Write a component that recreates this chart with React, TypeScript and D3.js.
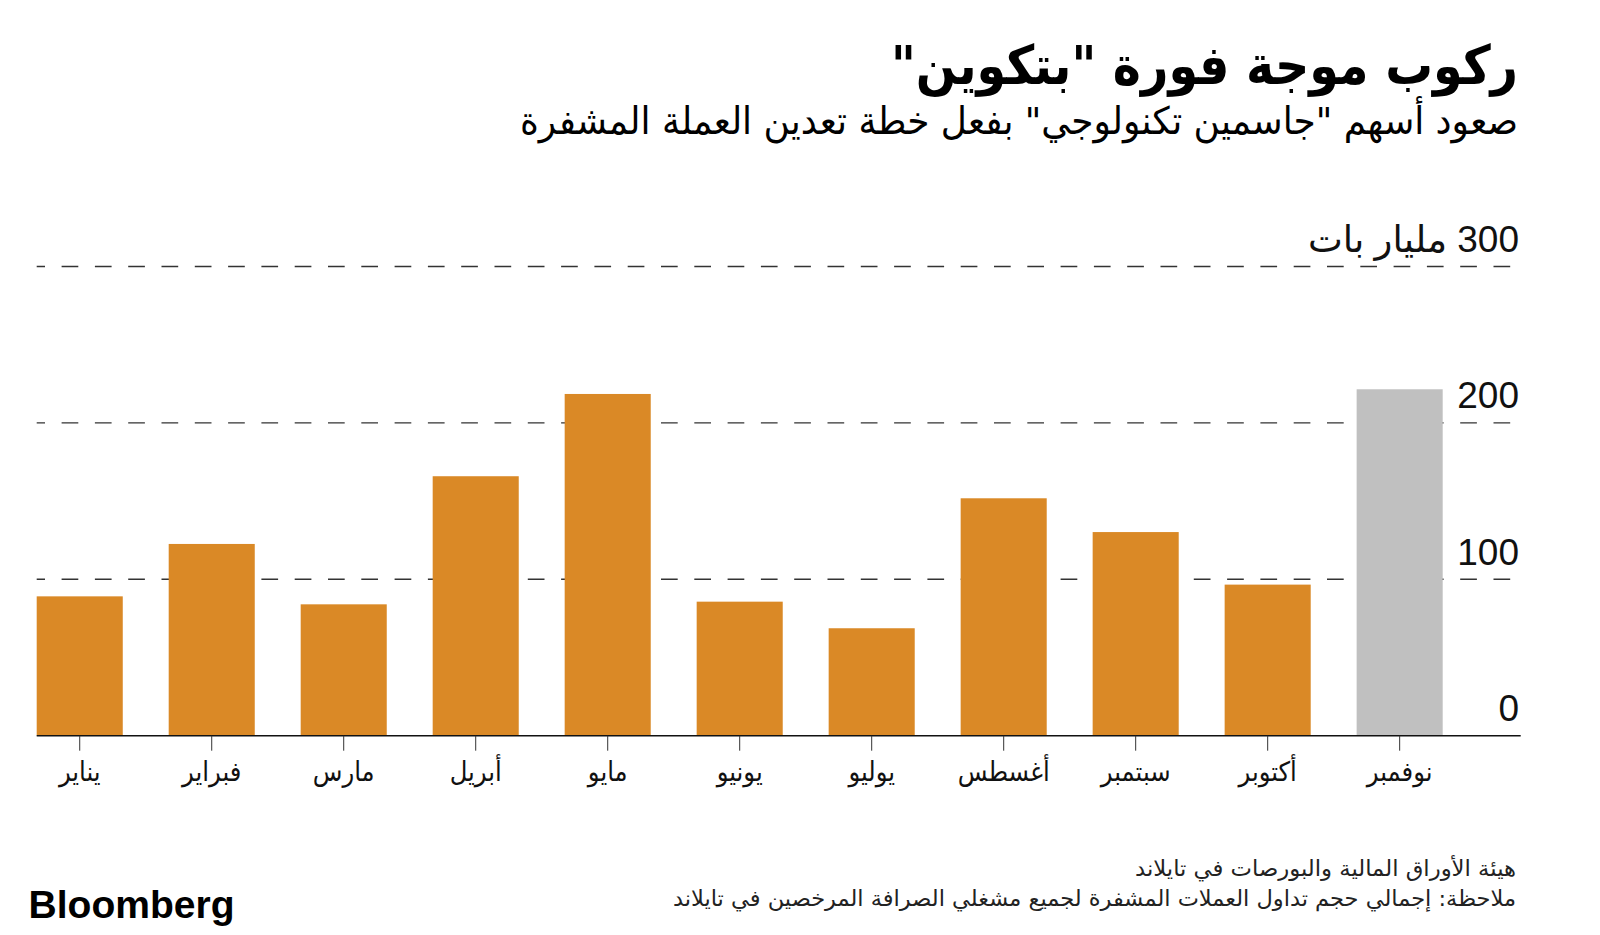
import React from "react";
import * as d3 from "d3";

const months = ["يناير", "فبراير", "مارس", "أبريل", "مايو", "يونيو", "يوليو", "أغسطس", "سبتمبر", "أكتوبر", "نوفمبر"];
const volumes = [89.1, 122.6, 84.0, 165.9, 218.5, 85.7, 68.7, 151.8, 130.2, 96.6, 221.5];
const highlighted = ["نوفمبر"];
const yTicks = [0, 100, 200, 300];
const yUnit = "مليار بات";

const title = "ركوب موجة فورة \"بتكوين\"";
const subtitle = "صعود أسهم \"جاسمين تكنولوجي\" بفعل خطة تعدين العملة المشفرة";
const source = "هيئة الأوراق المالية والبورصات في تايلاند";
const note = "ملاحظة: إجمالي حجم تداول العملات المشفرة لجميع مشغلي الصرافة المرخصين في تايلاند";

const W = 1600;
const H = 935;
const left = 36.7;
const right = 1520.7;
const plotBarsRight = 1442.7;
const y0 = 735.7;
const y300 = 266.5;

const ARABIC = "'DejaVu Sans Condensed', 'DejaVu Sans', sans-serif";

export default function App() {
  const x = d3.scaleBand<string>().domain(months).range([left, plotBarsRight]).paddingInner(0.348).paddingOuter(0);
  const y = d3.scaleLinear().domain([0, 300]).range([y0, y300]);

  return (
    <div style={{ position: "absolute", left: 0, top: 0 }}>
      <svg width={W} height={H} style={{ display: "block", background: "#fff" }}>
        {/* title */}
        <text x={1518} y={84} direction="rtl" textAnchor="start" fontFamily={ARABIC} fontWeight="bold" fontSize={54}
          textLength={627} lengthAdjust="spacingAndGlyphs" fill="#000">{title}</text>
        <text x={1518} y={134} direction="rtl" textAnchor="start" fontFamily={ARABIC} fontSize={38}
          textLength={998} lengthAdjust="spacingAndGlyphs" fill="#000">{subtitle}</text>

        {/* gridlines */}
        {yTicks.filter(t => t > 0).map(t => (
          <line key={t} x1={left} x2={right} y1={y(t)} y2={y(t)} stroke="#333" strokeWidth={1.4}
            strokeDasharray="16.7 16.6" strokeDashoffset={8.4} />
        ))}

        {/* bars */}
        {months.map((m, i) => (
          <rect key={m} x={x(m)} y={y(volumes[i])} width={x.bandwidth()} height={y(0) - y(volumes[i])}
            fill={highlighted.includes(m) ? "#c0c0c0" : "#da8926"} />
        ))}

        {/* baseline */}
        <line x1={left} x2={right} y1={y0} y2={y0} stroke="#111" strokeWidth={1.6} />

        {/* x ticks & labels */}
        {months.map(m => {
          const cx = (x(m) as number) + x.bandwidth() / 2;
          return (
            <g key={m}>
              <line x1={cx} x2={cx} y1={y0} y2={y0 + 15} stroke="#333" strokeWidth={1} />
              <text x={cx} y={781} textAnchor="middle" fontFamily={ARABIC} fontSize={27} fill="#111">{m}</text>
            </g>
          );
        })}

        {/* y labels */}
        {yTicks.map(t => (
          <text key={t} x={1519} y={y(t) - 14.5} direction="rtl" textAnchor="start"
            fontFamily="'Liberation Sans', 'DejaVu Sans', sans-serif" fontSize={37} fill="#111">
            {t === 300 ? `${t} ${yUnit}` : `${t}`}
          </text>
        ))}

        {/* footer */}
        <text x={1516} y={876} direction="rtl" textAnchor="start" fontFamily={ARABIC} fontSize={22}
          textLength={381} lengthAdjust="spacingAndGlyphs" fill="#222">{source}</text>
        <text x={1516} y={906} direction="rtl" textAnchor="start" fontFamily={ARABIC} fontSize={22}
          textLength={843} lengthAdjust="spacingAndGlyphs" fill="#222">{note}</text>

        <text x={28.6} y={918} fontFamily="'Liberation Sans', Arial, sans-serif" fontWeight="bold" fontSize={38}
          textLength={206} lengthAdjust="spacingAndGlyphs" fill="#000">Bloomberg</text>
      </svg>
    </div>
  );
}
